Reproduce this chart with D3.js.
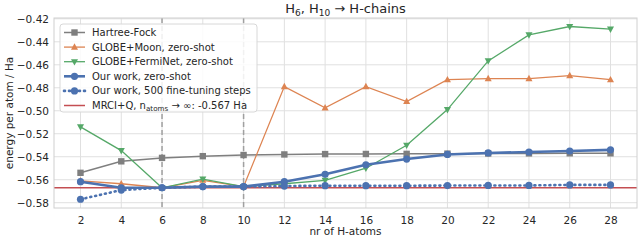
<!DOCTYPE html>
<meta charset="utf-8">
<style>
body { margin: 0; background: #fff; }
text { font-family: "DejaVu Sans", sans-serif; fill: #262626; }
</style>
<body>
<script src="https://d3js.org/d3.v7.min.js"></script>
<script>

var width = 640, height = 240;
var margin = {top: 18, right: 3, bottom: 32, left: 54};

var atoms = [2, 4, 6, 8, 10, 12, 14, 16, 18, 20, 22, 24, 26, 28];
var hartreeFock = [-0.554, -0.544, -0.541, -0.5395, -0.5385, -0.538, -0.5377, -0.5376, -0.5375, -0.5373, -0.5372, -0.5371, -0.537, -0.537];
var globeMoon = [-0.561, -0.5635, -0.567, -0.5605, -0.566, -0.479, -0.4975, -0.479, -0.492, -0.473, -0.472, -0.472, -0.4695, -0.473];
var globeFermiNet = [-0.514, -0.5347, -0.567, -0.5595, -0.566, -0.5635, -0.5605, -0.550, -0.530, -0.499, -0.4566, -0.434, -0.4267, -0.429];
var ourZeroShot = [-0.5617, -0.567, -0.567, -0.566, -0.566, -0.5617, -0.5553, -0.547, -0.542, -0.538, -0.5367, -0.5359, -0.535, -0.534];
var ourFineTuned = [-0.577, -0.569, -0.567, -0.566, -0.566, -0.5655, -0.5652, -0.5652, -0.5652, -0.5651, -0.565, -0.565, -0.5645, -0.5645];
var mrciQ = -0.567;
var dashedAt = [6, 10];
var xTicks = atoms;
var yTicks = [-0.58, -0.56, -0.54, -0.52, -0.50, -0.48, -0.46, -0.44, -0.42];

var series = [
  {name: "Hartree-Fock", values: hartreeFock, color: "#7f7f7f", width: 1.5, marker: "square", dash: null},
  {name: "GLOBE+Moon, zero-shot", values: globeMoon, color: "#dd8452", width: 1.3, marker: "up", dash: null},
  {name: "GLOBE+FermiNet, zero-shot", values: globeFermiNet, color: "#55a868", width: 1.3, marker: "down", dash: null},
  {name: "Our work, zero-shot", values: ourZeroShot, color: "#4c72b0", width: 2.6, marker: "circle", dash: null},
  {name: "Our work, 500 fine-tuning steps", values: ourFineTuned, color: "#4c72b0", width: 2.6, marker: "circle", dash: "1,4"}
];

var svg = d3.select("body").append("svg")
    .attr("width", width)
    .attr("height", height);

var x = d3.scaleLinear().domain([0.7, 29.3]).range([margin.left, width - margin.right]);
var y = d3.scaleLinear().domain([-0.5846, -0.4193]).range([height - margin.bottom, margin.top]);

var plot = svg.append("g");

// grid
plot.selectAll(".gx").data(xTicks).enter().append("line")
  .attr("x1", d => x(d)).attr("x2", d => x(d))
  .attr("y1", margin.top).attr("y2", height - margin.bottom)
  .attr("stroke", "#e0e0e0").attr("stroke-width", 1);
plot.selectAll(".gy").data(yTicks).enter().append("line")
  .attr("x1", margin.left).attr("x2", width - margin.right)
  .attr("y1", d => y(d)).attr("y2", d => y(d))
  .attr("stroke", "#e0e0e0").attr("stroke-width", 1);

// dashed markers at H6, H10
plot.selectAll(".vd").data(dashedAt).enter().append("line")
  .attr("x1", d => x(d)).attr("x2", d => x(d))
  .attr("y1", margin.top).attr("y2", height - margin.bottom)
  .attr("stroke", "#a0a0a0").attr("stroke-width", 1.5).attr("stroke-dasharray", "5,3");

// reference line
plot.append("line")
  .attr("x1", margin.left).attr("x2", width - margin.right)
  .attr("y1", y(mrciQ)).attr("y2", y(mrciQ))
  .attr("stroke", "#c44e52").attr("stroke-width", 1.5);

function markerPath(type, r) {
  if (type === "square") return "M" + (-r) + "," + (-r) + "h" + 2 * r + "v" + 2 * r + "h" + (-2 * r) + "Z";
  if (type === "up") return "M0," + (-r * 1.2) + "L" + r * 1.1 + "," + r * 0.8 + "L" + (-r * 1.1) + "," + r * 0.8 + "Z";
  if (type === "down") return "M0," + r * 1.2 + "L" + r * 1.1 + "," + (-r * 0.8) + "L" + (-r * 1.1) + "," + (-r * 0.8) + "Z";
  return d3.symbol(d3.symbolCircle, Math.PI * r * r)();
}

var line = d3.line().x(d => x(d[0])).y(d => y(d[1]));

series.forEach(function(s) {
  var pts = atoms.map((a, i) => [a, s.values[i]]);
  var g = plot.append("g");
  g.append("path").datum(pts)
    .attr("d", line)
    .attr("fill", "none")
    .attr("stroke", s.color)
    .attr("stroke-width", s.width)
    .attr("stroke-dasharray", s.dash)
    .attr("stroke-linecap", s.dash ? "round" : "butt");
  g.selectAll("path.m").data(pts).enter().append("path")
    .attr("class", "m")
    .attr("transform", d => "translate(" + x(d[0]) + "," + y(d[1]) + ")")
    .attr("d", markerPath(s.marker, s.marker === "circle" ? 3.6 : 3.2))
    .attr("fill", s.color);
});

// frame
svg.append("rect")
  .attr("x", margin.left).attr("y", margin.top)
  .attr("width", width - margin.left - margin.right)
  .attr("height", height - margin.top - margin.bottom)
  .attr("fill", "none").attr("stroke", "#d0d0d0").attr("stroke-width", 1);

// axes
var xAxis = svg.append("g")
  .attr("transform", "translate(0," + (height - margin.bottom) + ")")
  .call(d3.axisBottom(x).tickValues(xTicks).tickSize(0).tickPadding(9));
var yAxis = svg.append("g")
  .attr("transform", "translate(" + margin.left + ",0)")
  .call(d3.axisLeft(y).tickValues(yTicks).tickSize(0).tickPadding(5)
    .tickFormat(d => d3.format(".2f")(d).replace("-", "\u2212")));
[xAxis, yAxis].forEach(function(a) {
  a.select(".domain").remove();
  a.selectAll("text").attr("font-size", 10.5).attr("font-family", "DejaVu Sans").attr("fill", "#262626");
});

svg.append("text")
  .attr("x", (margin.left + width - margin.right) / 2).attr("y", height - 5)
  .attr("text-anchor", "middle").attr("font-size", 10.5)
  .text("nr of H-atoms");

svg.append("text")
  .attr("transform", "translate(9," + ((margin.top + height - margin.bottom) / 2) + ") rotate(-90)")
  .attr("text-anchor", "middle").attr("dy", "0.35em").attr("font-size", 10.5)
  .text("energy per atom / Ha");

var title = svg.append("text")
  .attr("x", (margin.left + width - margin.right) / 2).attr("y", 13)
  .attr("text-anchor", "middle").attr("font-size", 13);
title.append("tspan").text("H");
title.append("tspan").attr("font-size", 9).attr("dy", 3).text("6");
title.append("tspan").attr("dy", -3).text(", H");
title.append("tspan").attr("font-size", 9).attr("dy", 3).text("10");
title.append("tspan").attr("dy", -3).text(" \u2192 H-chains");

// legend
var legend = svg.append("g").attr("transform", "translate(60,24)");
legend.append("rect")
  .attr("width", 197).attr("height", 88).attr("rx", 3)
  .attr("fill", "#fff").attr("fill-opacity", 0.85)
  .attr("stroke", "#d8d8d8");
var legendItems = series.concat([{name: "MRCI+Q", color: "#c44e52", width: 1.5, marker: null, dash: null}]);
legendItems.forEach(function(s, i) {
  var ly = 8.5 + i * 14.6;
  var row = legend.append("g").attr("transform", "translate(0," + ly + ")");
  row.append("line").attr("x1", 4).attr("x2", 25)
    .attr("stroke", s.color).attr("stroke-width", s.width)
    .attr("stroke-dasharray", s.dash).attr("stroke-linecap", s.dash ? "round" : "butt");
  if (s.marker) {
    row.append("path").attr("transform", "translate(14.5,0)")
      .attr("d", markerPath(s.marker, s.marker === "circle" ? 3.6 : 3.2))
      .attr("fill", s.color);
  }
  var t = row.append("text").attr("x", 32).attr("dy", "0.35em").attr("font-size", 10);
  if (s.marker) {
    t.text(s.name);
  } else {
    t.append("tspan").text("MRCI+Q, n");
    t.append("tspan").attr("font-size", 7.2).attr("dy", 2).text("atoms");
    t.append("tspan").attr("dy", -2).text(" \u2192 \u221e: -0.567 Ha");
  }
});

</script>
